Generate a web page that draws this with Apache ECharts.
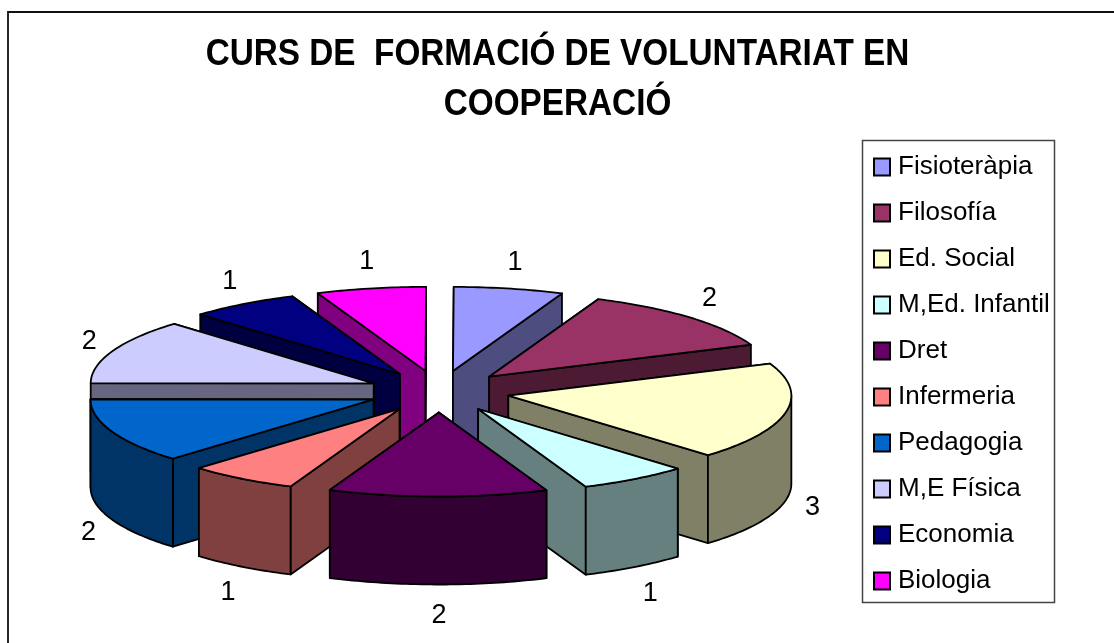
<!DOCTYPE html>
<html><head><meta charset="utf-8">
<style>html,body{margin:0;padding:0;background:#fff;overflow:hidden}#c{width:1114px;height:643px}</style>
<script src="https://cdn.jsdelivr.net/npm/echarts@6/dist/echarts.min.js"></script>
</head><body><div id="c"></div>
<script>
const categories = ['Fisioteràpia','Filosofía','Ed. Social','M,Ed. Infantil','Dret','Infermeria','Pedagogia','M,E Física','Economia','Biologia'];
const values = [1,2,3,1,2,1,2,2,1,1];
const topColors = ['#9999FF','#993366','#FFFFCC','#CCFFFF','#660066','#FF8080','#0066CC','#CCCCFF','#000080','#FF00FF'];
const sideColors = ['#4D4D80','#4D1A33','#808066','#668080','#330033','#804040','#003366','#666680','#000040','#800080'];
const titleText = 'CURS DE  FORMACIÓ DE VOLUNTARIAT EN\nCOOPERACIÓ';

const geo = {cx:439, cy:391.5, a:283, b:84, depth:88, explode:0.25, rot:0.15, labelA:380, labelB:134, labelDx:1, labelDy:2};
const FONT = 'Liberation Sans, Arial, sans-serif';
const total = values.reduce((s,v)=>s+v,0);
const rad = d => d*Math.PI/180;
let acc = 0;
const slices = values.map((v,i)=>{
  const start = geo.rot+acc/total*360; acc += v; const end = geo.rot+acc/total*360;
  return {i,start,end,mid:(start+end)/2};
});
function renderSlice(s){
  const ox = geo.cx + geo.explode*geo.a*Math.sin(rad(s.mid));
  const oy = geo.cy - geo.explode*geo.b*Math.cos(rad(s.mid));
  const pt = (d,h)=>[ox+geo.a*Math.sin(rad(d)), oy-geo.b*Math.cos(rad(d))+(h||0)];
  const arc = (from,to,h)=>{const r=[];const n=Math.max(1,Math.ceil(to-from));
    for(let k=0;k<=n;k++) r.push(pt(from+(to-from)*k/n,h)); return r;};
  const style = f=>({fill:f,stroke:'#000',lineWidth:1.8,lineJoin:'round'});
  const top=topColors[s.i], side=sideColors[s.i], ch=[];
  const apex=[ox,oy], apexB=[ox,oy+geo.depth];
  const face=d=>({type:'polygon',shape:{points:[apex,pt(d),pt(d,geo.depth),apexB]},style:style(side)});
  // cut faces: the one reaching further back is painted first
  [s.start,s.end].sort((p,q)=>pt(p)[1]-pt(q)[1]).forEach(d=>ch.push(face(d)));
  const from=Math.max(s.start,90), to=Math.min(s.end,270);
  if(to>from) ch.push({type:'polygon',shape:{points:arc(from,to,0).concat(arc(from,to,geo.depth).reverse())},style:style(side)});
  ch.push({type:'polygon',shape:{points:[apex].concat(arc(s.start,s.end,0))},style:style(top)});
  const front=Math.cos(rad(s.mid))<0;
  ch.push({type:'text',z2:100,style:{text:String(values[s.i]),
    x:geo.cx+geo.labelDx+geo.labelA*Math.sin(rad(s.mid)),
    y:geo.cy+geo.labelDy-geo.labelB*Math.cos(rad(s.mid))+(front?geo.depth:0),
    align:'center',verticalAlign:'middle',font:'27px '+FONT,fill:'#000'}});
  return {type:'group',children:ch};
}
// Painter's order: the back slices first, the front slices last.
const order = slices.slice().sort((p,q)=>Math.cos(rad(q.mid))-Math.cos(rad(p.mid)));
const series = order.map(s=>({
  type:'custom',name:categories[s.i],coordinateSystem:'none',silent:true,
  itemStyle:{color:topColors[s.i],borderColor:'#000',borderWidth:1.5},
  data:[[values[s.i]]],
  renderItem:()=>renderSlice(s)
}));
const chart = echarts.init(document.getElementById('c'),null,{renderer:'canvas'});
chart.setOption({
  animation:false,backgroundColor:'#fff',
  legend:{data:categories,orient:'vertical',left:873,top:153,itemWidth:16,itemHeight:17,itemGap:18,
    icon:'rect',selectedMode:false,padding:0,
    textStyle:{fontFamily:FONT,fontSize:26,color:'#000',padding:[0,0,0,3],height:28,lineHeight:28}},
  graphic:[
    {type:'rect',silent:true,z:-10,shape:{x:8,y:12,width:1200,height:700},style:{fill:'#fff',stroke:'#111',lineWidth:1.8}},
    {type:'rect',silent:true,z:-9,shape:{x:862.5,y:140.5,width:192,height:462},style:{fill:'#fff',stroke:'#444',lineWidth:1.5}},
    {type:'text',silent:true,z:5,x:557.5,y:30,scaleX:0.9,style:{text:titleText,align:'center',verticalAlign:'top',
      font:'bold 37px '+FONT,lineHeight:50,fill:'#000'}}
  ],
  series
});
</script></body></html>
